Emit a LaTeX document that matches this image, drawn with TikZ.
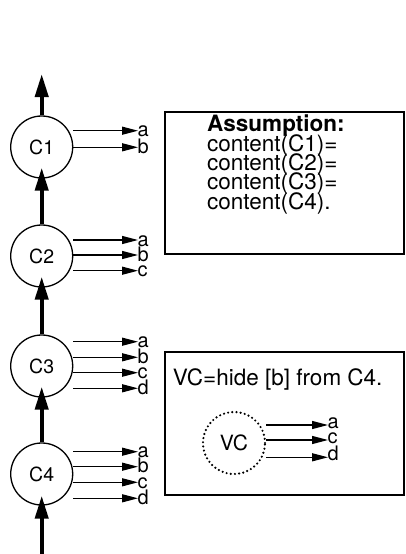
\documentclass[tikz,border=0pt]{standalone}
\usepackage{fontspec}
\setmainfont{TeX Gyre Heros}
\usetikzlibrary{arrows.meta}

\begin{document}
\begin{tikzpicture}[x=1pt,y=1pt,
        cell/.style={circle,draw,line width=1.3pt,minimum size=62pt,inner sep=0pt,font=\fontsize{19.5}{19.5}\selectfont},
        flow/.style={line width=4pt,-{Triangle[length=23pt,width=13pt]}},
        leak/.style={line width=1.3pt,-{Triangle[length=16pt,width=8pt]}},
        lab/.style={anchor=base west,inner sep=0pt,xshift=-1pt,yshift=-6pt,font=\fontsize{20}{20}\selectfont},
        note/.style={anchor=base west,inner sep=0pt,font=\fontsize{22.5}{22.5}\selectfont}]
        \useasboundingbox (0,0) rectangle (406,-554);
        \node[cell] (C1) at (41.7,-147) {C1};
        \node[cell] (C2) at (41.7,-256) {C2};
        \node[cell] (C3) at (41.7,-366) {C3};
        \node[cell] (C4) at (41.7,-474) {C4};
        \coordinate (top) at (41.7,-74);
        \coordinate (bottom) at (41.7,-554);
        \draw[flow] (C1.north) -- (top);
        \draw[flow,shorten >=-11pt] (C2.north) -- (C1.south);
        \draw[flow,shorten >=-11pt] (C3.north) -- (C2.south);
        \draw[flow,shorten >=-11pt] (C4.north) -- (C3.south);
        \draw[flow,shorten >=-10pt] (bottom) -- (C4.south);
        \coordinate (c1a) at (138,-130.7);
        \coordinate (c1b) at (138,-147.3);
        \draw[leak] (C1.east |- c1a) -- (c1a) node[lab] (c1a-t) {a};
        \draw[leak] (C1.east |- c1b) -- (c1b) node[lab] (c1b-t) {b};
        \coordinate (c2a) at (138,-240);
        \coordinate (c2b) at (138,-255);
        \coordinate (c2c) at (138,-270.7);
        \draw[leak] (C2.east |- c2a) -- (c2a) node[lab] (c2a-t) {a};
        \draw[leak] (C2.east |- c2b) -- (c2b) node[lab] (c2b-t) {b};
        \draw[leak] (C2.east |- c2c) -- (c2c) node[lab] (c2c-t) {c};
        \coordinate (c3a) at (138,-341.7);
        \coordinate (c3b) at (138,-357.3);
        \coordinate (c3c) at (138,-372.7);
        \coordinate (c3d) at (138,-388.3);
        \draw[leak] (C3.east |- c3a) -- (c3a) node[lab] (c3a-t) {a};
        \draw[leak] (C3.east |- c3b) -- (c3b) node[lab] (c3b-t) {b};
        \draw[leak] (C3.east |- c3c) -- (c3c) node[lab] (c3c-t) {c};
        \draw[leak] (C3.east |- c3d) -- (c3d) node[lab] (c3d-t) {d};
        \coordinate (c4a) at (138,-451.7);
        \coordinate (c4b) at (138,-466.7);
        \coordinate (c4c) at (138,-482.3);
        \coordinate (c4d) at (138,-498.3);
        \draw[leak] (C4.east |- c4a) -- (c4a) node[lab] (c4a-t) {a};
        \draw[leak] (C4.east |- c4b) -- (c4b) node[lab] (c4b-t) {b};
        \draw[leak] (C4.east |- c4c) -- (c4c) node[lab] (c4c-t) {c};
        \draw[leak] (C4.east |- c4d) -- (c4d) node[lab] (c4d-t) {d};
        \draw[line width=1.2pt] (165,-112) rectangle (404,-254);
        \node[note] (as0) at (207,-131.7) {\bfseries Assumption:};
        \node[note] (as1) at (207,-151) {content(C1)=};
        \node[note] (as2) at (207,-170.3) {content(C2)=};
        \node[note] (as3) at (207,-189.6) {content(C3)=};
        \node[note] (as4) at (207,-209) {content(C4).};
        \draw[line width=1.2pt] (165,-352) rectangle (404,-495);
        \node[note] (vcdef) at (172.7,-385) {VC=hide [b] from C4.};
        \node[cell,line width=2.4pt,line cap=round,dash pattern=on 0pt off 4.2pt,font=\fontsize{21}{21}\selectfont] (VC) at (234,-443) {VC};
        \coordinate (vca) at (328,-425);
        \coordinate (vcc) at (328,-440);
        \coordinate (vcd) at (328,-457.3);
        \draw[leak] (VC.east |- vca) -- (vca) node[lab,yshift=3pt] (vca-t) {a};
        \draw[leak] (VC.east |- vcc) -- (vcc) node[lab,yshift=3pt] (vcc-t) {c};
        \draw[leak] (VC.east |- vcd) -- (vcd) node[lab,yshift=3pt] (vcd-t) {d};
      \end{tikzpicture}
\end{document}
